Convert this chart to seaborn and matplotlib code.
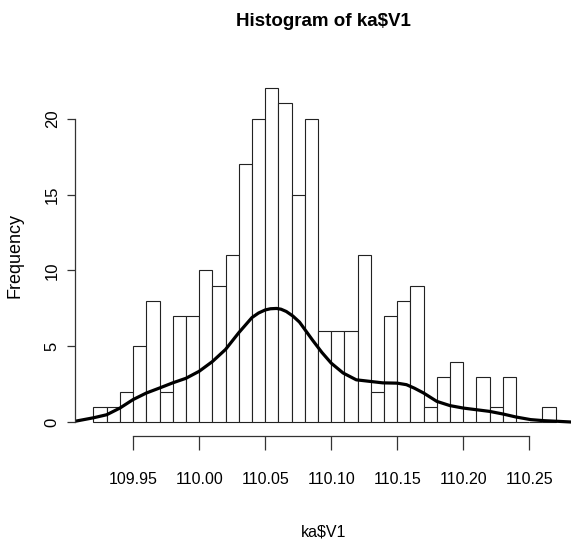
import numpy as np
import pandas as pd
import matplotlib
matplotlib.use("Agg")
import matplotlib.pyplot as plt
import seaborn as sns

# histogram counts, bins of width 0.01 starting at 109.92
bin_start = 109.92
bin_width = 0.01
counts = [1, 1, 2, 5, 8, 2, 7, 7, 10, 9, 11, 17, 20, 22, 21, 15, 20,
          6, 6, 6, 11, 2, 7, 8, 9, 1, 3, 4, 0, 3, 1, 3, 0, 0, 1]

# smoothed curve
curve_x = [109.906, 109.920, 109.930, 109.940, 109.950, 109.960, 109.970,
           109.980, 109.990, 110.000, 110.010, 110.020, 110.030, 110.040,
           110.045, 110.050, 110.054, 110.0586, 110.062, 110.066, 110.071,
           110.076, 110.086, 110.093, 110.100, 110.109,
           110.119, 110.129, 110.139, 110.150, 110.157, 110.163, 110.170, 110.180,
           110.190, 110.200, 110.210, 110.220, 110.230, 110.240, 110.251,
           110.261, 110.271, 110.282]
curve_y = [0.07, 0.3, 0.5, 0.94, 1.5, 1.93, 2.26, 2.6, 2.9, 3.36, 4.0, 4.8,
           5.9, 6.9, 7.2, 7.4, 7.48, 7.5, 7.45, 7.3, 7.0, 6.6, 5.4, 4.6, 3.9, 3.25,
           2.8, 2.7, 2.6, 2.58, 2.48, 2.25, 1.93, 1.38, 1.1, 0.94, 0.83, 0.72,
           0.55, 0.35, 0.18, 0.11, 0.07, 0.02]

xticks = [109.95, 110.00, 110.05, 110.10, 110.15, 110.20, 110.25]
yticks = [0, 5, 10, 15, 20]

sns.set_style("white")
plt.rcParams["font.family"] = ["Liberation Sans", "DejaVu Sans"]
plt.rcParams["text.color"] = "black"
plt.rcParams["xtick.color"] = "black"
plt.rcParams["ytick.color"] = "black"

edges = [round(bin_start + bin_width * i, 2) for i in range(len(counts) + 1)]
centers = [e + bin_width / 2 for e in edges[:-1]]
df = pd.DataFrame({"v": centers, "n": counts})

W, H = 571, 544
fig = plt.figure(figsize=(W / 100, H / 100), dpi=100)
ax = fig.add_axes([75 / W, (H - 435.7) / H, (W - 75) / W, (435.7 - 74.9) / H])

sns.histplot(data=df, x="v", weights="n", bins=edges, color="white",
             edgecolor="#222222", linewidth=0.8, alpha=1, ax=ax)
sns.lineplot(x=curve_x, y=curve_y, color="black", linewidth=2.3, ax=ax)

ax.set_xlim(109.906, 110.2816)
ax.set_ylim(-0.88, 22.88)
ax.set_xticks(xticks)
ax.set_xticklabels([f"{t:.2f}" for t in xticks], fontsize=11.5)
ax.set_yticks(yticks)
ax.set_yticklabels([str(t) for t in yticks], rotation=90, va="center", fontsize=12)
ax.set_xlabel("")
ax.set_ylabel("")

for s in ["top", "right"]:
    ax.spines[s].set_visible(False)
ax.spines["left"].set_bounds(0, 20)
ax.spines["bottom"].set_bounds(109.95, 110.25)
for s in ["left", "bottom"]:
    ax.spines[s].set_color("#333333")
    ax.spines[s].set_linewidth(0.9)
ax.tick_params(axis="x", length=10, width=0.9, color="#333333", pad=16, bottom=True)
ax.tick_params(axis="y", length=6, width=0.9, color="#333333", pad=5, left=True)

fig.text(323.6 / W, 1 - 21 / H, "Histogram of ka$V1", ha="center", va="center",
         fontsize=13.5, fontweight="bold")
fig.text(324 / W, 1 - 532 / H, "ka$V1", ha="center", va="center", fontsize=11.5)
fig.text(15 / W, 1 - 255 / H, "Frequency", ha="center", va="center",
         rotation=90, fontsize=13)

fig.savefig("out.png", dpi=100)
